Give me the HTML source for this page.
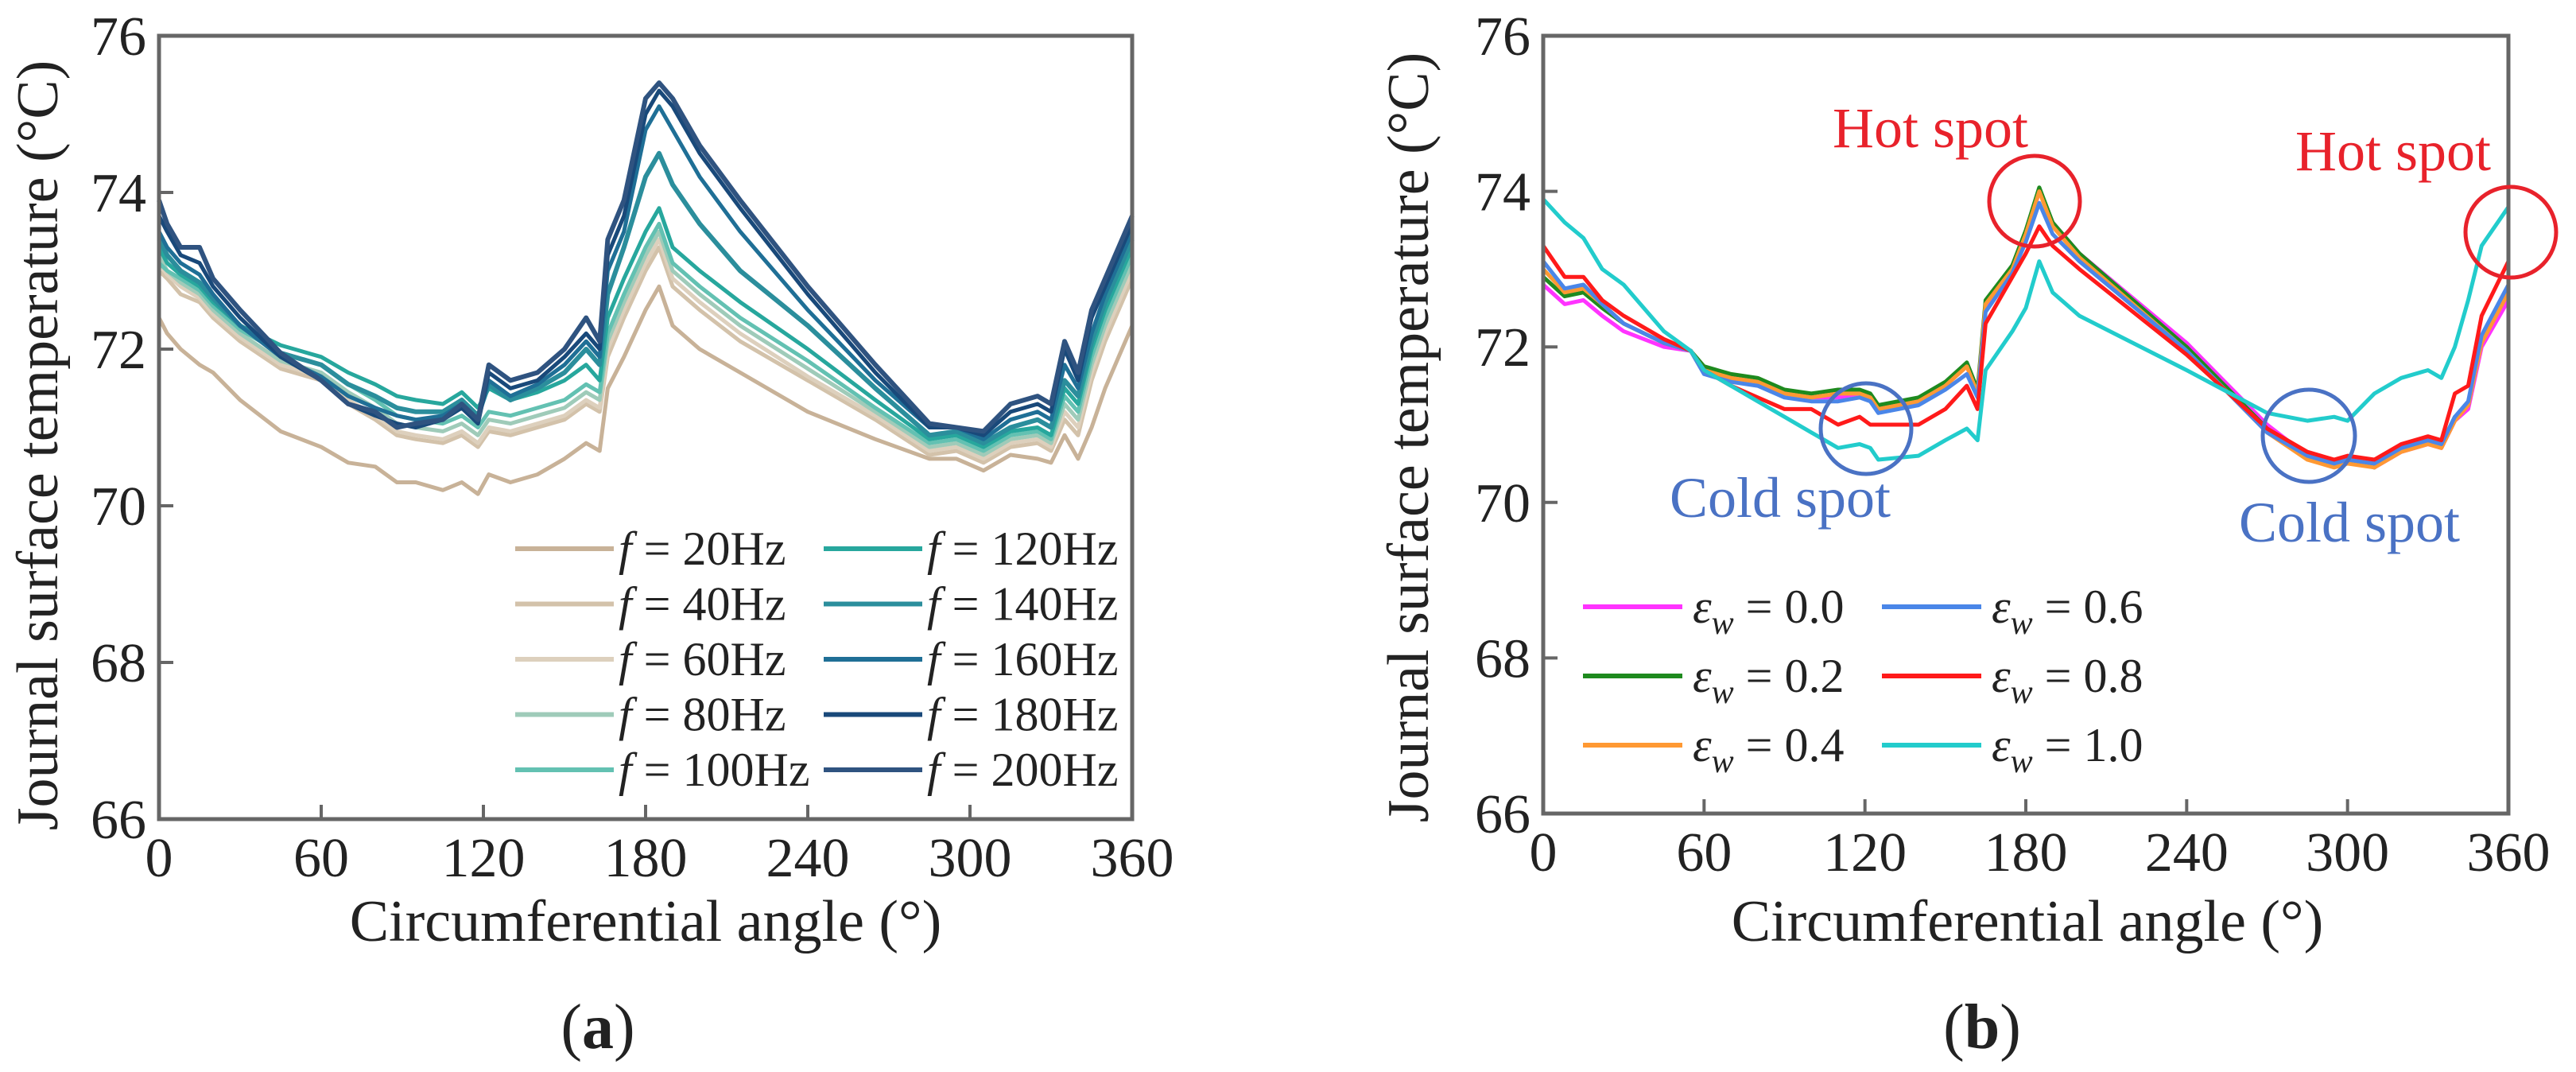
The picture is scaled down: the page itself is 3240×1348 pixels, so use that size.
<!DOCTYPE html>
<html><head><meta charset="utf-8"><style>
html,body{margin:0;padding:0;background:#fff;}
svg{display:block;}
text{font-family:"Liberation Serif",serif;fill:#222;}
</style></head><body>
<svg id="root" width="3240" height="1348" viewBox="0 0 3240 1348" xmlns="http://www.w3.org/2000/svg">
<g id="pa"></g>
<g id="pb"></g>
</svg>
<script>
// ---------- Data ----------
const anglesA = [0,3,8,15,20,30,45,60,70,80,88,95,105,112,118,122,130,140,150,158,163,166,172,180,185,190,200,215,240,265,285,295,305,315,325,330,335,340,345,350,355,360];
const f20  = [72.4,72.2,72.0,71.8,71.7,71.35,70.95,70.75,70.55,70.5,70.3,70.3,70.2,70.3,70.15,70.4,70.3,70.4,70.6,70.8,70.7,71.5,71.9,72.5,72.8,72.3,72.0,71.7,71.2,70.85,70.6,70.6,70.45,70.65,70.6,70.55,70.9,70.6,71.0,71.5,71.9,72.3];
const f40  = [73.0,72.9,72.7,72.6,72.4,72.1,71.75,71.6,71.3,71.1,70.9,70.85,70.8,70.9,70.75,70.95,70.9,71.0,71.1,71.3,71.2,71.9,72.4,73.0,73.3,72.8,72.5,72.1,71.6,71.1,70.65,70.7,70.55,70.75,70.8,70.7,71.1,70.9,71.6,72.1,72.5,72.9];
const f60  = [73.1,72.95,72.8,72.65,72.45,72.15,71.8,71.65,71.35,71.15,70.95,70.9,70.85,70.95,70.8,71.0,70.95,71.05,71.15,71.35,71.25,72.0,72.5,73.1,73.4,72.9,72.6,72.2,71.65,71.15,70.7,70.75,70.6,70.8,70.85,70.75,71.2,71.0,71.7,72.2,72.6,73.0];
const f80  = [73.2,73.0,72.85,72.7,72.5,72.2,71.85,71.7,71.45,71.25,71.05,71.0,70.95,71.05,70.9,71.1,71.05,71.15,71.25,71.45,71.35,72.1,72.6,73.2,73.5,73.0,72.7,72.3,71.75,71.2,70.75,70.8,70.65,70.85,70.9,70.8,71.3,71.1,71.8,72.3,72.7,73.1];
const f100 = [73.1,73.0,72.9,72.75,72.55,72.25,71.95,71.8,71.55,71.35,71.15,71.1,71.05,71.15,71.0,71.2,71.15,71.25,71.35,71.55,71.45,72.2,72.7,73.3,73.6,73.1,72.8,72.4,71.85,71.25,70.8,70.85,70.7,70.9,70.95,70.85,71.4,71.2,71.9,72.4,72.8,73.2];
const f120 = [73.3,73.1,72.95,72.8,72.6,72.3,72.05,71.9,71.7,71.55,71.4,71.35,71.3,71.45,71.25,71.5,71.35,71.45,71.6,71.8,71.6,72.4,72.9,73.5,73.8,73.3,73.0,72.6,72.0,71.35,70.85,70.9,70.75,70.95,71.0,70.9,71.5,71.3,72.0,72.5,72.9,73.3];
const f140 = [73.4,73.2,73.0,72.85,72.65,72.3,71.95,71.8,71.55,71.4,71.25,71.2,71.2,71.35,71.15,71.55,71.35,71.5,71.7,72.0,71.8,72.7,73.3,74.2,74.5,74.1,73.6,73.0,72.3,71.5,70.9,70.95,70.8,71.0,71.1,71.0,71.6,71.4,72.1,72.6,73.0,73.4];
const f160 = [73.5,73.3,73.1,72.95,72.7,72.3,71.9,71.65,71.4,71.25,71.15,71.1,71.15,71.3,71.1,71.6,71.4,71.55,71.8,72.1,71.9,73.0,73.5,74.8,75.1,74.8,74.2,73.5,72.5,71.6,71.0,71.0,70.85,71.1,71.2,71.1,71.8,71.5,72.2,72.7,73.1,73.5];
const f180 = [73.7,73.5,73.2,73.1,72.8,72.4,71.9,71.6,71.3,71.15,71.05,71.0,71.1,71.25,71.05,71.7,71.5,71.6,71.9,72.2,72.0,73.2,73.7,75.0,75.3,75.1,74.5,73.8,72.7,71.7,71.0,71.0,70.9,71.2,71.3,71.2,72.0,71.6,72.4,72.8,73.2,73.6];
const f200 = [73.9,73.6,73.3,73.3,72.9,72.5,71.95,71.6,71.3,71.2,71.0,71.05,71.1,71.3,71.1,71.8,71.6,71.7,72.0,72.4,72.1,73.4,73.9,75.2,75.4,75.2,74.6,73.9,72.8,71.8,71.05,71.0,70.95,71.3,71.4,71.3,72.1,71.7,72.5,72.9,73.3,73.7];
const labelsA = ["20Hz","40Hz","60Hz","80Hz","100Hz","120Hz","140Hz","160Hz","180Hz","200Hz"];

const anglesB = [0,8,15,22,30,45,55,60,70,80,90,100,110,118,122,125,140,150,158,162,165,175,180,185,190,200,240,270,285,295,300,310,320,330,335,340,345,350,360];
const e00 = [72.8,72.55,72.6,72.4,72.2,72.0,71.95,71.7,71.6,71.55,71.4,71.35,71.35,71.4,71.35,71.2,71.3,71.5,71.75,71.4,72.5,73.0,73.4,74.0,73.6,73.2,72.05,71.0,70.6,70.5,70.55,70.45,70.65,70.75,70.7,71.05,71.2,72.0,72.6];
const e02 = [72.9,72.65,72.7,72.5,72.3,72.05,71.95,71.75,71.65,71.6,71.45,71.4,71.45,71.45,71.4,71.25,71.35,71.55,71.8,71.45,72.6,73.05,73.5,74.05,73.6,73.2,72.0,70.95,70.6,70.5,70.55,70.45,70.7,70.8,70.75,71.1,71.25,72.1,72.7];
const e04 = [73.0,72.7,72.75,72.55,72.3,72.05,71.95,71.7,71.6,71.55,71.4,71.35,71.4,71.4,71.35,71.2,71.3,71.5,71.75,71.4,72.55,73.0,73.45,74.0,73.55,73.15,71.95,70.9,70.55,70.45,70.5,70.45,70.65,70.75,70.7,71.05,71.25,72.05,72.7];
const e06 = [73.1,72.75,72.8,72.55,72.3,72.05,71.95,71.65,71.55,71.5,71.35,71.3,71.3,71.35,71.3,71.15,71.25,71.45,71.65,71.35,72.45,72.95,73.35,73.85,73.45,73.1,71.95,70.9,70.6,70.5,70.55,70.5,70.7,70.8,70.75,71.1,71.3,72.15,72.8];
const e08 = [73.3,72.9,72.9,72.6,72.4,72.1,71.95,71.7,71.5,71.35,71.2,71.2,71.0,71.1,71.0,71.0,71.0,71.2,71.5,71.2,72.3,72.9,73.2,73.55,73.3,73.0,71.9,70.95,70.65,70.55,70.6,70.55,70.75,70.85,70.8,71.4,71.5,72.4,73.1];
const e10 = [73.9,73.6,73.4,73.0,72.8,72.2,71.95,71.7,71.5,71.3,71.1,70.9,70.7,70.75,70.7,70.55,70.6,70.8,70.95,70.8,71.7,72.2,72.5,73.1,72.7,72.4,71.7,71.15,71.05,71.1,71.05,71.4,71.6,71.7,71.6,72.0,72.6,73.3,73.8];
const labelsB = ["0.0","0.2","0.4","0.6","0.8","1.0"];

const yTicks = [66,68,70,72,74,76];
const xTicks = [0,60,120,180,240,300,360];

const NS = "http://www.w3.org/2000/svg";
function el(tag, attrs, parent, txt){
  const e = document.createElementNS(NS, tag);
  for (const k in attrs) e.setAttribute(k, attrs[k]);
  if (txt !== undefined) e.textContent = txt;
  parent.appendChild(e); return e;
}

function panel(g, box, seriesArr, xs, colors, widths, names){
  const sx = v => box.x0 + (v/360)*(box.x1-box.x0);
  const sy = v => box.y1 - ((v-66)/10)*(box.y1-box.y0);
  seriesArr.forEach((s,i)=>{
    const d = s.map((v,j)=>(j?"L":"M")+sx(xs[j]).toFixed(1)+","+sy(v).toFixed(1)).join(" ");
    const p = el("path",{d:d,fill:"none",stroke:colors[i],"stroke-width":widths[i],"stroke-linejoin":"round"},g);
    
    
  });
  const fr = el("rect",{x:box.x0,y:box.y0,width:box.x1-box.x0,height:box.y1-box.y0,fill:"none",stroke:"#666","stroke-width":5},g);
  
  
  yTicks.forEach(t=>{
    const y = sy(t);
    if (t!==66 && t!==76){
      const tk = el("line",{x1:box.x0,x2:box.x0+18,y1:y,y2:y,stroke:"#666","stroke-width":4},g);
      
      
    }
    const tl = el("text",{x:box.x0-16,y:y+24,"text-anchor":"end","font-size":70},g,String(t));
    
    
  });
  xTicks.forEach(t=>{
    const x = sx(t);
    if (t!==0 && t!==360){
      const tk = el("line",{x1:x,x2:x,y1:box.y1,y2:box.y1-18,stroke:"#666","stroke-width":4},g);
      
      
    }
    const tl = el("text",{x:x,y:box.y1+72,"text-anchor":"middle","font-size":70},g,String(t));
    
    
  });
  return {sx,sy};
}

// ---------- Panel A ----------
const pa = document.getElementById("pa");
const colorsA = ["#c8b298","#d3c2aa","#ddd0bd","#9fcbb9","#63c1b2","#27a79d","#2b8e9c","#1f6f96","#19497a","#2f5380"];
const boxA = {x0:200,x1:1424,y0:45,y1:1030};
panel(pa, boxA, [f20,f40,f60,f80,f100,f120,f140,f160,f180,f200], anglesA, colorsA, [5,5,5,5,5,5,6,5,5,6], labelsA.map(l=>"f-"+l));
const yA = el("text",{x:0,y:0,transform:"translate(72,560) rotate(-90)","text-anchor":"middle","font-size":74},pa,"Journal surface temperature (°C)");
 
const xA = el("text",{x:812,y:1183,"text-anchor":"middle","font-size":74},pa,"Circumferential angle (°)");
 
const capA = el("text",{x:752,y:1318,"text-anchor":"middle","font-size":80},pa);
capA.innerHTML = '(<tspan font-weight="bold">a</tspan>)';
 
labelsA.forEach((l,i)=>{
  const col = i<5?0:1, row = i%5;
  const y = 690 + row*69.5;
  const lx = col? 1036:648;
  const g = el("g",{},pa);
  
  
  el("line",{x1:lx,x2:lx+124,y1:y,y2:y,stroke:colorsA[i],"stroke-width":6},g);
  const t = el("text",{x:lx+130,y:y+20,"font-size":60},g);
  t.innerHTML = '<tspan font-style="italic">f</tspan> = '+l;
});

// ---------- Panel B ----------
const pb = document.getElementById("pb");
const colorsB = ["#ff33ff","#1e8a1e","#ff9933","#4a86e8","#ff1a1a","#22cccc"];
const boxB = {x0:1941,x1:3155,y0:45,y1:1023};
panel(pb, boxB, [e00,e02,e04,e06,e08,e10], anglesB, colorsB, [5,5,5,5,5,5], labelsB.map(l=>"eps-"+l));
const yB = el("text",{x:0,y:0,transform:"translate(1796,550) rotate(-90)","text-anchor":"middle","font-size":74},pb,"Journal surface temperature (°C)");
 
const xB = el("text",{x:2550,y:1183,"text-anchor":"middle","font-size":74},pb,"Circumferential angle (°)");
 
const capB = el("text",{x:2493,y:1318,"text-anchor":"middle","font-size":80},pb);
capB.innerHTML = '(<tspan font-weight="bold">b</tspan>)';
 
labelsB.forEach((l,i)=>{
  const col = i<3?0:1, row = i%3;
  const y = 763 + row*87;
  const lx = col? 2367:1991;
  const g = el("g",{},pb);
  
  
  el("line",{x1:lx,x2:lx+125,y1:y,y2:y,stroke:colorsB[i],"stroke-width":6},g);
  const t = el("text",{x:lx+138,y:y+20,"font-size":60},g);
  t.innerHTML = '<tspan font-style="italic">ε</tspan><tspan font-style="italic" font-size="42" dy="14">w</tspan><tspan dy="-14"> = '+l+'</tspan>';
});
function ann(name, txt, x, y, color){
  const t = el("text",{x:x,y:y,"font-size":72,fill:color},pb,txt);
  t.style.fill = color;
  
  
}
function circ(name, cx, cy, r, color){
  const c = el("circle",{cx:cx,cy:cy,r:r,fill:"none",stroke:color,"stroke-width":5},pb);
  
  
}
ann("hot-spot-label-1","Hot spot",2305,185,"#e8222b");
ann("hot-spot-label-2","Hot spot",2887,214,"#e8222b");
ann("cold-spot-label-1","Cold spot",2100,650,"#4a72c4");
ann("cold-spot-label-2","Cold spot",2816,681,"#4a72c4");
circ("hot-spot-circle-1",2559,253,57,"#e8222b");
circ("hot-spot-circle-2",3158,292,57,"#e8222b");
circ("cold-spot-circle-1",2347,539,57,"#4a72c4");
circ("cold-spot-circle-2",2904,548,58,"#4a72c4");
</script>
</body></html>
